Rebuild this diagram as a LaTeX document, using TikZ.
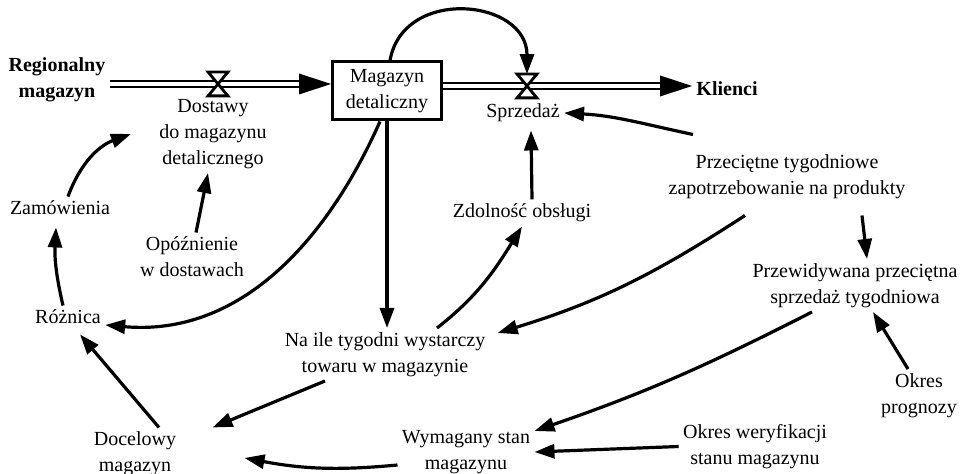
\documentclass[tikz,border=0pt]{standalone}
\usepackage{fontspec}
\setmainfont{Liberation Serif}
\usetikzlibrary{arrows.meta,decorations.markings}

\begin{document}
\begin{tikzpicture}[x=0.5pt,y=0.5pt,
  lbl/.style={align=center,inner sep=2pt,font=\fontsize{10}{13}\selectfont},
  bold/.style={lbl,font=\fontsize{10}{13}\selectfont\bfseries},
  stockbox/.style={lbl,draw,line width=1.5pt,minimum width=54.5pt,minimum height=29pt},
  valve/.style={inner sep=0pt,minimum width=9.5pt,minimum height=11.5pt},
  lnk/.style={-{Triangle[length=10pt,width=7pt]},line width=1.6pt},
  pipe/.style={double,double distance=1.8pt,line width=1.3pt,shorten >=9pt,
    postaction={decorate},decoration={markings,
      mark=at position 1 with {\fill (0,0) -- (-16pt,5.25pt) -- (-16pt,-5.25pt) -- cycle;}}}
]
\useasboundingbox (0,0) rectangle (962,474);

\node[bold] (reg) at (57,394) {Regionalny\\magazyn};
\node[stockbox] (stock) at (387,383) {Magazyn\\detaliczny};
\node[bold] (klienci) at (727,385) {Klienci};
\node[valve] (valve1) at (218,390) {};
\node[valve] (valve2) at (527,388) {};
\node[lbl] (deliv) at (213,340) {Dostawy\\do magazynu\\detalicznego};
\node[lbl] (sales) at (523,361) {Sprzedaż};
\node[lbl] (demand) at (787,297) {Przeciętne tygodniowe\\zapotrzebowanie na produkty};
\node[lbl] (service) at (522,261) {Zdolność obsługi};
\node[lbl] (orders) at (60,266) {Zamówienia};
\node[lbl] (delay) at (192,217) {Opóźnienie\\w dostawach};
\node[lbl] (diff) at (68,157) {Różnica};
\node[lbl] (weeks) at (385,119.5) {Na ile tygodni wystarczy\\towaru w magazynie};
\node[lbl] (forecast) at (855,188.5) {Przewidywana przeciętna\\sprzedaż tygodniowa};
\node[lbl] (period) at (919,78.5) {Okres\\prognozy};
\node[lbl] (review) at (755,27.5) {Okres weryfikacji\\stanu magazynu};
\node[lbl] (required) at (466,22) {Wymagany stan\\magazynu};
\node[lbl] (target) at (135,20) {Docelowy\\magazyn};

% flows
\draw[pipe] (reg.east |- valve1) -- (stock.west |- valve1);
\draw[pipe] (stock.east |- valve2) -- (klienci.west |- valve2);
\foreach \v in {valve1,valve2}
  \draw[line width=1.4pt,fill=white] (\v.north west) -- (\v.north east)
    -- (\v.south west) -- (\v.south east) -- cycle;

% links
\draw[lnk] ([xshift=1.5pt]stock.north) to[out=80,in=90,looseness=1.4] (valve2.north);
\draw[lnk] ([xshift=4pt]orders.north) to[out=70,in=200] ([xshift=-12pt]deliv.west);
\draw[lnk] ([xshift=2pt]delay.north) -- ([xshift=-2.5pt]deliv.south);
\draw[lnk] ([xshift=-2.5pt]diff.north) to[bend left=8] ([shift={(-2pt,-4pt)}]orders.south);
\draw[lnk] ([xshift=-3.5pt]stock.south) to[out=246,in=-5] ([yshift=-4pt]diff.east);
\draw[lnk] (stock.south) -- (stock.south |- weeks.north);
\draw[lnk] ([xshift=26pt]weeks.north) to[out=38,in=238] (service.south);
\draw[lnk] ([xshift=5pt]service.north) -- ([shift={(4pt,-2pt)}]sales.south);
\draw[lnk] ([shift={(-47pt,8pt)}]demand.north) to[out=168,in=-3] (sales.east);
\draw[lnk] ([shift={(-21pt,-6pt)}]demand.south) to[out=213,in=17] ([shift={(4pt,-2.5pt)}]weeks.north east);
\draw[lnk] ([shift={(37.5pt,-6pt)}]demand.south) -- ([xshift=6pt]forecast.north);
\draw[lnk] ([xshift=-5.5pt]period.north) -- ([xshift=9pt]forecast.south);
\draw[lnk] ([xshift=-21.5pt]forecast.south) to[out=207,in=19] ([yshift=10.5pt]required.east);
\draw[lnk] (review.west) -- (required.east);
\draw[lnk] ([yshift=-6.5pt]required.west) to[bend left=8] ([shift={(32pt,-2pt)}]target.east);
\draw[lnk] ([xshift=-30pt]weeks.south) -- ([xshift=16pt]target.north east);
\draw[lnk] ([xshift=12pt]target.north) -- ([shift={(6pt,-3pt)}]diff.south);
\end{tikzpicture}
\end{document}
